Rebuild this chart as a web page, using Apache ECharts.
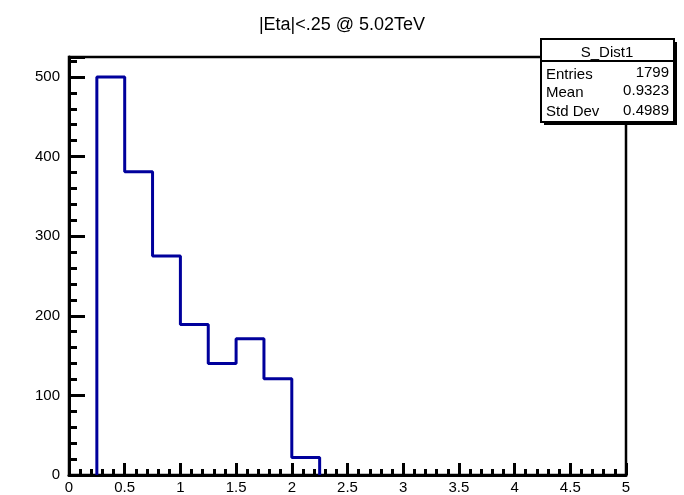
<!DOCTYPE html>
<html>
<head>
<meta charset="utf-8">
<script src="https://cdn.jsdelivr.net/npm/echarts@6/dist/echarts.min.js"></script>
<style>html,body{margin:0;padding:0;background:#fff}#c{width:684px;height:495px}</style>
</head>
<body>
<div id="c"></div>
<script>
// ---- data ----
const binEdges = [0.25, 0.5, 0.75, 1.0, 1.25, 1.5, 1.75, 2.0, 2.25];
const counts = [500, 381, 275, 189, 140, 171, 121, 22];
const xRange = [0, 5];
const yRange = [0, 525];
const titleText = '|Eta|<.25 @ 5.02TeV';
const statsName = 'S_Dist1';
const statsLabels = ['Entries', 'Mean', 'Std Dev'];
const statsValues = ['1799', '0.9323', '0.4989'];

// build step outline from bins
const outline = [[binEdges[0], 0]];
for (let i = 0; i < counts.length; i++) {
  outline.push([binEdges[i], counts[i]]);
  outline.push([binEdges[i + 1], counts[i]]);
}
outline.push([binEdges[binEdges.length - 1], 0]);

const FONT = '"Liberation Sans", Arial, sans-serif';
const chart = echarts.init(document.getElementById('c'), null, {renderer: 'canvas'});

const axisLbl = {fontFamily: FONT, fontSize: 15, color: '#000'};

const statsGraphics = [
  {type: 'rect', shape: {x: 544, y: 42, width: 133, height: 83}, style: {fill: '#000'}, z: 100},
  {type: 'rect', shape: {x: 541, y: 39, width: 133, height: 83}, style: {fill: '#fff', stroke: '#000', lineWidth: 2}, z: 101},
  {type: 'line', shape: {x1: 541, y1: 61, x2: 674, y2: 61}, style: {stroke: '#000', lineWidth: 2}, z: 102},
  {type: 'text', x: 607, y: 53, style: {text: statsName, font: '15px ' + FONT, fill: '#000', textAlign: 'center', textVerticalAlign: 'middle'}, z: 102}
];
const labelYs = [75, 93, 112];
const valueYs = [72.5, 90.5, 110.5];
statsLabels.forEach((l, i) => {
  statsGraphics.push({type: 'text', x: 546, y: labelYs[i], style: {text: l, font: '15px ' + FONT, fill: '#000', textAlign: 'left', textVerticalAlign: 'middle'}, z: 102});
  statsGraphics.push({type: 'text', x: 669, y: valueYs[i], style: {text: statsValues[i], font: '15px ' + FONT, fill: '#000', textAlign: 'right', textVerticalAlign: 'middle'}, z: 102});
});

chart.setOption({
  animation: false,
  backgroundColor: '#fff',
  title: {
    text: titleText, left: 'center', top: 11,
    textStyle: {fontFamily: FONT, fontSize: 18, fontWeight: 'normal', color: '#000'}
  },
  grid: {left: 69, right: 58, top: 57, bottom: 17, show: true, borderColor: '#000', borderWidth: 2.5, backgroundColor: 'transparent'},
  xAxis: [
    {
      type: 'value', min: xRange[0], max: xRange[1], interval: 0.5, position: 'bottom',
      axisLine: {show: true, lineStyle: {color: '#000', width: 3}},
      axisTick: {show: true, inside: true, length: 12, lineStyle: {color: '#000', width: 3}},
      axisLabel: Object.assign({margin: 5, formatter: v => String(+v.toFixed(1))}, axisLbl),
      splitLine: {show: false}
    },
    {
      type: 'value', min: xRange[0], max: xRange[1], interval: 0.1, position: 'bottom', offset: 0,
      axisLine: {show: false},
      axisTick: {show: true, inside: true, length: 6, lineStyle: {color: '#000', width: 3}},
      axisLabel: {show: false},
      splitLine: {show: false}
    }
  ],
  yAxis: [
    {
      type: 'value', min: yRange[0], max: yRange[1], interval: 100, position: 'left',
      axisLine: {show: true, lineStyle: {color: '#000', width: 3}},
      axisTick: {show: true, inside: true, length: 16, lineStyle: {color: '#000', width: 3}},
      axisLabel: Object.assign({margin: 9, formatter: v => (v % 100 === 0 ? String(v) : '')}, axisLbl),
      splitLine: {show: false}
    },
    {
      type: 'value', min: yRange[0], max: yRange[1], interval: 20, position: 'left', offset: 0,
      axisLine: {show: false},
      axisTick: {show: true, inside: true, length: 8, lineStyle: {color: '#000', width: 3}},
      axisLabel: {show: false},
      splitLine: {show: false}
    }
  ],
  series: [{
    type: 'line', xAxisIndex: 0, yAxisIndex: 0, data: outline,
    symbol: 'none', lineStyle: {color: '#00009c', width: 3}, z: 5
  }],
  graphic: statsGraphics
});
</script>
</body>
</html>
